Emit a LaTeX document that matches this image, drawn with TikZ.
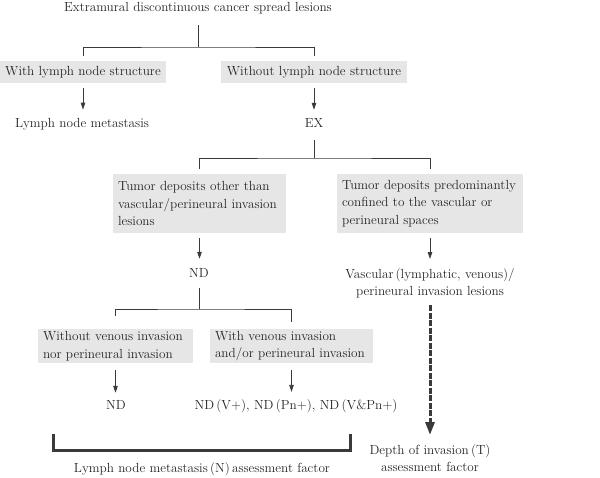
\documentclass[tikz,border=0pt]{standalone}
\usetikzlibrary{arrows.meta}
\definecolor{txt}{HTML}{262626}
\definecolor{ln}{HTML}{3A3A3A}
\definecolor{boxg}{HTML}{E6E6E6}
\begin{document}
\begin{tikzpicture}[x=1pt,y=-1pt,
  every node/.style={font=\fontsize{13.2pt}{17.5pt}\selectfont, text=txt},
  lbl/.style={inner sep=0pt, anchor=base},
  gbox/.style={fill=boxg, inner xsep=5pt, inner ysep=2pt},
  mbox/.style={gbox, align=flush left},
  thin/.style={draw=ln, line width=0.8pt},
  arr/.style={thin, -{Triangle[length=7pt,width=4.5pt]}},
  darr/.style={draw=ln, line width=3pt, dash pattern=on 6pt off 1.5pt, -{Triangle[length=13pt,width=9pt]}},
  bracket/.style={draw=ln, line width=3pt}]
\useasboundingbox (0,0) rectangle (600,477);

\node[lbl] (t) at (198,11) {Extramural discontinuous cancer spread lesions};
\coordinate (j1) at (198,47);

\node[gbox, minimum width=166pt, minimum height=22pt] (b1) at (83,72) {With lymph node structure};
\node[gbox, minimum width=186pt, minimum height=22pt] (b2) at (314,72) {Without lymph node structure};

\node[lbl] (lnm) at (82,127) {Lymph node metastasis};
\node[lbl] (ex) at (314,127) {EX};
\coordinate (j2) at (314,158);

\node[mbox, text width=163pt, minimum height=59pt] (b3) at (199.5,203.5)
  {Tumor deposits other than\\vascular/perineural invasion\\lesions};
\node[mbox, text width=176pt, minimum height=59pt] (b4) at (430,203.5)
  {Tumor deposits predominantly\\confined to the vascular or\\perineural spaces};

\node[lbl] (nd1) at (199,277) {ND};
\node[inner sep=0pt, align=center, anchor=north] (vasc) at (430,268)
  {Vascular\,(lymphatic, venous)/\\perineural invasion lesions};
\coordinate (j3) at (199,309);

\node[mbox, text width=145pt, minimum height=34pt] (b5) at (115.5,346)
  {Without venous invasion\\nor perineural invasion};
\node[mbox, text width=153pt, minimum height=34pt] (b6) at (291.5,346)
  {With venous invasion\\and/or perineural invasion};

\node[lbl] (nd2) at (116,409) {ND};
\node[lbl] (nd3) at (296,409) {ND\,(V+), ND\,(Pn+), ND\,(V\&Pn+)};

\coordinate (br1) at (53,434);
\coordinate (br2) at (350,434);
\coordinate (br3) at (53,450);
\node[lbl] (nlab) at (202,472) {Lymph node metastasis\,(N)\,assessment factor};
\node[inner sep=0pt, align=center, anchor=north] (tlab) at (430,444)
  {Depth of invasion\,(T)\\assessment factor};

% connectors
\draw[thin, shorten <=11pt] (t.south) -- (j1);
\draw[thin, shorten <=5pt, shorten >=5pt] (b1.north) |- (j1) -| (b2.north);
\draw[arr, shorten <=5pt, shorten >=8pt] (b1.south) -- (lnm.north -| b1.south);
\draw[arr, shorten <=5pt, shorten >=8pt] (b2.south) -- (ex.north);
\draw[thin, shorten <=13pt] (ex.south) -- (j2);
\draw[thin, shorten <=5pt, shorten >=5pt] (b3.north) |- (j2) -| (b4.north);
\draw[arr, shorten <=5pt, shorten >=9pt] (b3.south) -- (nd1.north -| b3.south);
\draw[arr, shorten <=5pt, shorten >=9pt] (b4.south) -- (vasc.north);
\draw[thin, shorten <=11pt] (nd1.south) -- (j3);
\draw[thin, shorten <=13pt, shorten >=7pt] (b5.north) |- (j3) -| (b6.north);
\draw[arr, shorten <=7pt, shorten >=7pt] (b5.south) -- (nd2.north -| b5.south);
\draw[arr, shorten <=7pt, shorten >=7pt] (b6.south) -- (b6.south |- nd3.north);
\draw[darr, shorten <=7pt, shorten >=9pt] (vasc.south) -- (tlab.north);
\draw[bracket] (br1) -- (br3) -| (br2);
\end{tikzpicture}
\end{document}
